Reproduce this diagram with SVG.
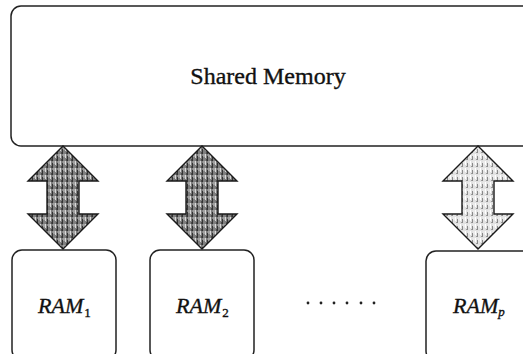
<svg xmlns="http://www.w3.org/2000/svg" width="523" height="354" viewBox="0 0 523 354">
  <style>
    .box { fill: #ffffff; stroke: #222222; stroke-width: 1.5; }
    .title { font-family: "Liberation Serif", "Times New Roman", serif; font-size: 24px; fill: #111111; stroke: #111111; stroke-width: 0.35; text-anchor: middle; }
    .ram { font-family: "Liberation Serif", "Times New Roman", serif; font-size: 22px; font-style: italic; fill: #111111; stroke: #111111; stroke-width: 0.35; }
    .sub { font-size: 13px; font-style: normal; }
    .subi { font-size: 13px; font-style: italic; }
    .arrow { stroke: #1a1a1a; stroke-width: 1.4; stroke-linejoin: miter; }
    .dot { fill: #222222; }
  </style>
  <defs>
    <pattern id="darkTex" width="5" height="7" patternUnits="userSpaceOnUse">
      <rect width="5" height="7" fill="#7e7e7e"/>
      <rect x="0" y="0" width="1" height="4" fill="#d8d8d8"/>
      <rect x="2" y="2" width="1" height="5" fill="#333333"/>
      <rect x="3.5" y="0" width="1" height="3" fill="#c4c4c4"/>
      <rect x="1" y="5" width="1" height="2" fill="#4a4a4a"/>
    </pattern>
    <pattern id="lightTex" width="5" height="7" patternUnits="userSpaceOnUse">
      <rect width="5" height="7" fill="#e2e2e2"/>
      <rect x="0" y="0" width="1" height="4" fill="#ffffff"/>
      <rect x="2" y="2" width="1" height="4" fill="#8a8a8a"/>
      <rect x="3.5" y="0" width="1" height="3" fill="#f5f5f5"/>
      <rect x="1" y="5" width="1" height="1" fill="#9a9a9a"/>
    </pattern>
  </defs>

  <g id="shared-memory">
    <rect class="box" x="11" y="6" width="521" height="140" rx="10" ry="10"/>
    <text class="title" x="268" y="84">Shared Memory</text>
  </g>

  <g id="connectors">
    <path class="arrow" fill="url(#darkTex)" d="M63,146 L98,181 L79,181 L79,214 L98,214 L63,249 L28,214 L47,214 L47,181 L28,181 Z"/>
    <path class="arrow" fill="url(#darkTex)" d="M202,146 L237,181 L218,181 L218,214 L237,214 L202,249 L167,214 L186,214 L186,181 L167,181 Z"/>
    <path class="arrow" fill="url(#lightTex)" d="M478,146 L513,181 L494,181 L494,214 L513,214 L478,249 L443,214 L462,214 L462,181 L443,181 Z"/>
  </g>

  <g id="ram1">
    <rect class="box" x="12" y="250" width="104" height="110" rx="10" ry="10"/>
    <text class="ram" x="38" y="313">RAM<tspan class="sub" dx="1" dy="4">1</tspan></text>
  </g>

  <g id="ram2">
    <rect class="box" x="150" y="250" width="104" height="110" rx="10" ry="10"/>
    <text class="ram" x="176" y="313">RAM<tspan class="sub" dx="1" dy="4">2</tspan></text>
  </g>

  <g id="ellipsis">
    <circle class="dot" cx="308" cy="303" r="1.4"/>
    <circle class="dot" cx="321" cy="303" r="1.4"/>
    <circle class="dot" cx="334" cy="303" r="1.4"/>
    <circle class="dot" cx="347" cy="303" r="1.4"/>
    <circle class="dot" cx="361" cy="303" r="1.4"/>
    <circle class="dot" cx="374" cy="303" r="1.4"/>
  </g>

  <g id="ramp">
    <rect class="box" x="426" y="251" width="110" height="110" rx="10" ry="10"/>
    <text class="ram" x="453" y="313">RAM<tspan class="subi" dx="0" dy="3">p</tspan></text>
  </g>
</svg>
